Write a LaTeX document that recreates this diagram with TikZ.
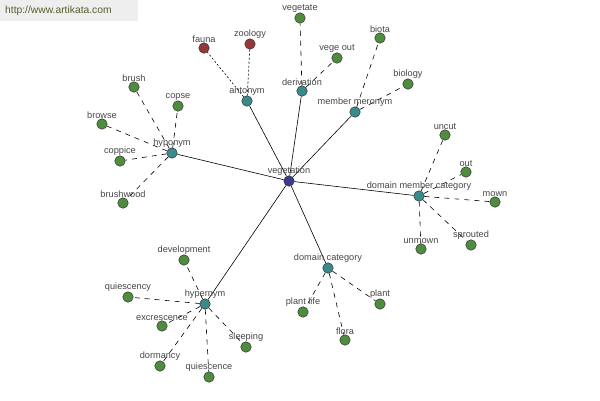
\documentclass[tikz,border=0pt]{standalone}
\usepackage{fontspec}
\setmainfont{Liberation Sans}
\usetikzlibrary{backgrounds}
\definecolor{leafgreen}{RGB}{78,140,62}
\definecolor{reltcol}{RGB}{58,138,140}
\definecolor{antcol}{RGB}{150,56,58}
\definecolor{corecol}{RGB}{60,60,140}
\definecolor{txtgrey}{RGB}{70,70,70}
\definecolor{urlcol}{RGB}{85,95,45}
\begin{document}
\begin{tikzpicture}[x=1pt,y=-1pt] % pixel grid, y grows downwards
\tikzset{every label/.style={text=txtgrey,font=\fontsize{9.2}{10}\selectfont,inner sep=0pt}}
\tikzset{dot/.style={circle,draw=black!80,line width=0.5pt,minimum size=10.5pt,inner sep=0pt,label distance=2.5pt}}
\tikzset{leaf/.style={dot,fill=leafgreen}, relt/.style={dot,fill=reltcol}, antleaf/.style={dot,fill=antcol}, core/.style={dot,fill=corecol}}
\tikzset{link/.style={black,line width=0.6pt}, sublink/.style={black,line width=0.6pt,dash pattern=on 5pt off 5pt}, antlink/.style={black,line width=0.6pt,dash pattern=on 2pt off 2pt}}
\useasboundingbox (0,0) rectangle (600,400);
\fill[gray!13] (0,0) rectangle (138,21);
\node[text=urlcol,font=\fontsize{10.3}{11}\selectfont,anchor=west,inner sep=0pt] (url) at (5,11) {http://www.artikata.com};
% centre and relations
\node[core,label=above:vegetation] (veg) at (289,181) {};
\node[relt,label=above:hyponym] (hypo) at (172,153) {};
\node[relt,label=above:antonym] (anto) at (247,101) {};
\node[relt,label=above:derivation] (deri) at (302,91) {};
\node[relt,label=above:member meronym] (mero) at (355,112) {};
\node[relt,label=above:domain member category] (dmc) at (419,196) {};
\node[relt,label=above:domain category] (dcat) at (328,268) {};
\node[relt,label=above:hypernym] (hyper) at (205,304) {};
% hyponym leaves
\node[leaf,label=above:brush] (brush) at (134,87) {};
\node[leaf,label=above:copse] (copse) at (178,106) {};
\node[leaf,label=above:browse] (browse) at (102,124) {};
\node[leaf,label=above:coppice] (coppice) at (120,161) {};
\node[leaf,label=above:brushwood] (brushwood) at (123,203) {};
% antonym leaves
\node[antleaf,label=above:fauna] (fauna) at (204,48) {};
\node[antleaf,label=above:zoology] (zoology) at (250,44) {};
% derivation leaves
\node[leaf,label=above:vegetate] (vegetate) at (300,18) {};
\node[leaf,label=above:vege out] (vegeout) at (337,58) {};
% member meronym leaves
\node[leaf,label=above:biota] (biota) at (380,38) {};
\node[leaf,label=above:biology] (biology) at (408,84) {};
% domain member category leaves
\node[leaf,label=above:uncut] (uncut) at (445,135) {};
\node[leaf,label=above:out] (out) at (466,172) {};
\node[leaf,label=above:mown] (mown) at (495,202) {};
\node[leaf,label=above:unmown] (unmown) at (421,249) {};
\node[leaf,label=above:sprouted] (sprouted) at (471,245) {};
% domain category leaves
\node[leaf,label=above:plant life] (plantlife) at (303,312) {};
\node[leaf,label=above:flora] (flora) at (345,340) {};
\node[leaf,label=above:plant] (plant) at (380,304) {};
% hypernym leaves
\node[leaf,label=above:development] (devel) at (184,260) {};
\node[leaf,label=above:quiescency] (quiescency) at (128,297) {};
\node[leaf,label=above:excrescence] (excres) at (162,326) {};
\node[leaf,label=above:sleeping] (sleeping) at (246,347) {};
\node[leaf,label=above:dormancy] (dormancy) at (160,366) {};
\node[leaf,label=above:quiescence] (quiescence) at (209,377) {};
\begin{pgfonlayer}{background}
\draw[link] (veg) -- (hypo) (veg) -- (anto) (veg) -- (deri) (veg) -- (mero);
\draw[link] (veg) -- (dmc) (veg) -- (dcat) (veg) -- (hyper);
\draw[sublink] (hypo) -- (brush) (hypo) -- (copse) (hypo) -- (browse) (hypo) -- (coppice) (hypo) -- (brushwood);
\draw[antlink] (anto) -- (fauna) (anto) -- (zoology);
\draw[sublink] (deri) -- (vegetate) (deri) -- (vegeout);
\draw[sublink] (mero) -- (biota) (mero) -- (biology);
\draw[sublink] (dmc) -- (uncut) (dmc) -- (out) (dmc) -- (mown) (dmc) -- (unmown) (dmc) -- (sprouted);
\draw[sublink] (dcat) -- (plantlife) (dcat) -- (flora) (dcat) -- (plant);
\draw[sublink] (hyper) -- (devel) (hyper) -- (quiescency) (hyper) -- (excres) (hyper) -- (sleeping) (hyper) -- (dormancy) (hyper) -- (quiescence);
\end{pgfonlayer}
\end{tikzpicture}
\end{document}
